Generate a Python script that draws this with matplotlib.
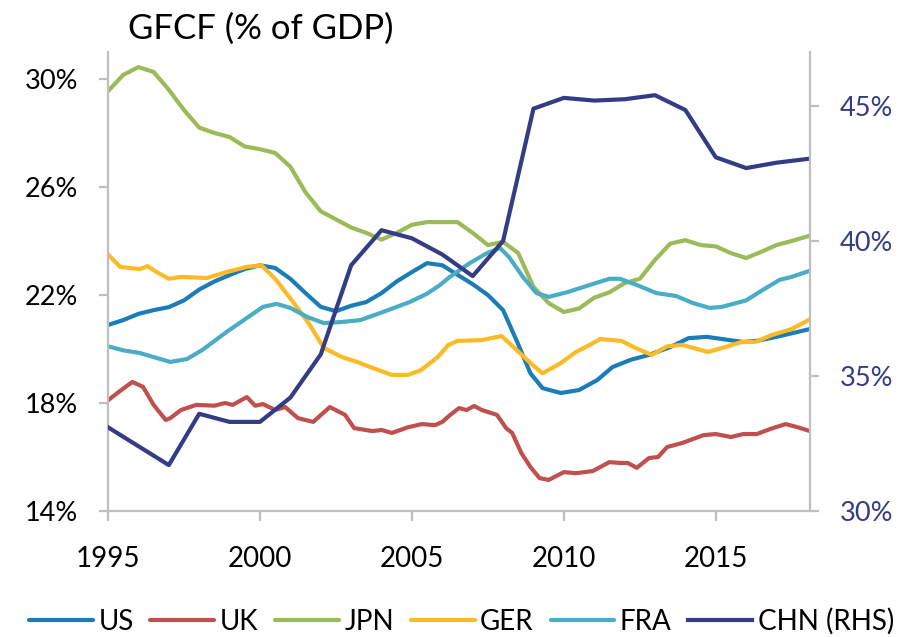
import matplotlib
matplotlib.use('Agg')
import matplotlib.pyplot as plt

plt.rcParams['font.family'] = ['Lato', 'DejaVu Sans']

# values (% of GDP)
us_x = [1995.0, 1995.5, 1996.0, 1996.5, 1997.0, 1997.5, 1998.0, 1998.5, 1999.0, 1999.5,
        2000.0, 2000.5, 2001.0, 2001.5, 2002.0, 2002.5, 2003.0, 2003.5, 2004.0, 2004.5,
        2005.0, 2005.5, 2006.0, 2006.5, 2007.0, 2007.5, 2008.0, 2008.45, 2008.9, 2009.3,
        2009.9, 2010.5, 2011.1, 2011.6, 2012.2, 2012.8, 2013.5, 2014.1, 2014.7, 2015.2,
        2015.9, 2016.35, 2017.0, 2018.1]
us_y = [20.89, 21.07, 21.3, 21.44, 21.55, 21.8, 22.2, 22.5, 22.74, 22.96,
        23.1, 23.0, 22.6, 22.07, 21.56, 21.4, 21.6, 21.74, 22.07, 22.5,
        22.85, 23.18, 23.1, 22.75, 22.4, 22.0, 21.44, 20.3, 19.1, 18.55,
        18.37, 18.48, 18.85, 19.33, 19.6, 19.78, 20.07, 20.4, 20.45, 20.37,
        20.26, 20.3, 20.45, 20.74]

uk_x = [1995.0, 1995.4, 1995.8, 1996.15, 1996.5, 1996.9, 1997.05, 1997.4, 1997.9, 1998.5,
        1998.85, 1999.1, 1999.57, 1999.84, 2000.1, 2000.5, 2000.83, 2001.25, 2001.75, 2002.3,
        2002.8, 2003.1, 2003.7, 2004.0, 2004.34, 2004.87, 2005.33, 2005.76, 2006.0, 2006.25,
        2006.55, 2006.8, 2007.05, 2007.3, 2007.8, 2008.1, 2008.3, 2008.6, 2008.9, 2009.2,
        2009.5, 2010.0, 2010.4, 2010.95, 2011.5, 2011.85, 2012.1, 2012.4, 2012.8, 2013.1,
        2013.4, 2013.9, 2014.6, 2015.0, 2015.5, 2015.9, 2016.35, 2016.8, 2017.3, 2017.7, 2018.1]
uk_y = [18.1, 18.45, 18.78, 18.6, 17.93, 17.37, 17.44, 17.74, 17.93, 17.9,
        18.0, 17.93, 18.22, 17.9, 17.96, 17.74, 17.85, 17.44, 17.3, 17.85,
        17.56, 17.07, 16.96, 17.0, 16.89, 17.1, 17.22, 17.18, 17.3, 17.55,
        17.81, 17.74, 17.89, 17.74, 17.56, 17.07, 16.89, 16.15, 15.63, 15.22,
        15.15, 15.44, 15.4, 15.48, 15.81, 15.78, 15.78, 15.6, 15.96, 16.0,
        16.37, 16.52, 16.81, 16.85, 16.74, 16.85, 16.85, 17.04, 17.22, 17.1, 16.96]

jpn_x = [1995.0, 1995.5, 1996.0, 1996.5, 1997.0, 1997.5, 1998.0, 1998.5, 1999.0, 1999.5,
         2000.0, 2000.5, 2001.0, 2001.5, 2002.0, 2002.5, 2003.0, 2003.5, 2004.0, 2004.5,
         2005.0, 2005.5, 2006.0, 2006.5, 2007.0, 2007.5, 2008.0, 2008.5, 2009.0, 2009.5,
         2010.0, 2010.5, 2011.0, 2011.5, 2012.0, 2012.5, 2013.0, 2013.5, 2014.0, 2014.5,
         2015.0, 2015.5, 2016.0, 2016.5, 2017.0, 2017.5, 2018.1]
jpn_y = [29.55, 30.15, 30.44, 30.26, 29.6, 28.85, 28.2, 28.0, 27.85, 27.5,
         27.4, 27.26, 26.75, 25.8, 25.1, 24.8, 24.5, 24.3, 24.05, 24.3,
         24.6, 24.7, 24.7, 24.7, 24.3, 23.85, 23.97, 23.55, 22.3, 21.7,
         21.37, 21.5, 21.9, 22.1, 22.44, 22.6, 23.3, 23.9, 24.03, 23.85,
         23.8, 23.55, 23.37, 23.6, 23.85, 24.0, 24.2]

ger_x = [1995.0, 1995.4, 1996.05, 1996.3, 1996.6, 1997.0, 1997.4, 1998.25, 1998.9, 1999.57,
         2000.05, 2000.5, 2001.05, 2001.6, 2002.1, 2002.7, 2003.2, 2003.7, 2004.34, 2004.87,
         2005.3, 2005.85, 2006.2, 2006.5, 2007.3, 2007.95, 2008.45, 2008.9, 2009.3, 2009.9,
         2010.4, 2010.85, 2011.2, 2011.9, 2012.35, 2012.9, 2013.4, 2013.9, 2014.75, 2015.3,
         2015.85, 2016.3, 2016.85, 2017.5, 2018.1]
ger_y = [23.5, 23.04, 22.96, 23.07, 22.85, 22.6, 22.67, 22.63, 22.85, 23.04,
         23.1, 22.6, 21.8, 20.96, 20.04, 19.7, 19.52, 19.3, 19.04, 19.04,
         19.22, 19.7, 20.15, 20.3, 20.33, 20.48, 19.96, 19.48, 19.1, 19.48,
         19.89, 20.15, 20.37, 20.3, 20.04, 19.78, 20.1, 20.15, 19.89, 20.07,
         20.26, 20.26, 20.52, 20.74, 21.1]

fra_x = [1995.0, 1995.5, 1996.05, 1997.05, 1997.6, 1998.1, 1998.9, 1999.57, 2000.1, 2000.55,
         2001.0, 2001.55, 2002.1, 2002.7, 2003.3, 2004.05, 2004.93, 2005.5, 2005.9, 2006.25,
         2006.9, 2007.47, 2007.9, 2008.2, 2008.65, 2009.1, 2009.5, 2010.1, 2010.85, 2011.5,
         2011.85, 2012.4, 2013.05, 2013.7, 2014.25, 2014.8, 2015.2, 2016.0, 2016.55, 2017.1,
         2017.5, 2018.1]
fra_y = [20.1, 19.95, 19.85, 19.52, 19.63, 19.96, 20.63, 21.15, 21.56, 21.67,
         21.52, 21.19, 20.96, 21.0, 21.07, 21.37, 21.74, 22.05, 22.35, 22.67,
         23.18, 23.55, 23.74, 23.4, 22.67, 22.07, 21.93, 22.1, 22.37, 22.6,
         22.6, 22.37, 22.07, 21.96, 21.7, 21.52, 21.56, 21.8, 22.19, 22.56,
         22.67, 22.9]

chn_x = [1995, 1996, 1997, 1998, 1999, 2000, 2001, 2002, 2003, 2004, 2005, 2006,
         2007, 2008, 2009, 2010, 2011, 2012, 2013, 2014, 2015, 2016, 2017, 2018.1]
chn_y = [33.1, 32.4, 31.7, 33.6, 33.3, 33.3, 34.2, 35.8, 39.1, 40.4, 40.1, 39.5,
         38.7, 40.0, 44.9, 45.3, 45.2, 45.25, 45.4, 44.85, 43.1, 42.7, 42.9, 43.05]

left_ticks = [14, 18, 22, 26, 30]
right_ticks = [30, 35, 40, 45]
year_ticks = [1995, 2000, 2005, 2010, 2015]

colors = {'US': '#1b7db8', 'UK': '#c0504d', 'JPN': '#9bbb59',
          'GER': '#fbba26', 'FRA': '#4bacc6', 'CHN (RHS)': '#333c84'}
grey = '#bfbfbf'
lw = 3.0

fig = plt.figure(figsize=(9.14, 6.37), dpi=100)
ax = fig.add_axes([0.1182, 0.1978, 0.768, 0.7206])
ax2 = ax.twinx()

series = [('US', us_x, us_y), ('UK', uk_x, uk_y), ('JPN', jpn_x, jpn_y),
          ('GER', ger_x, ger_y), ('FRA', fra_x, fra_y)]
handles = []
for name, xs, ys in series:
    h, = ax.plot(xs, ys, color=colors[name], lw=lw, solid_joinstyle='round',
                 solid_capstyle='round', label=name)
    handles.append(h)
h, = ax2.plot(chn_x, chn_y, color=colors['CHN (RHS)'], lw=lw, solid_joinstyle='round',
              label='CHN (RHS)')
handles.append(h)

ax.set_xlim(1995, 2018.1)
ax.set_ylim(14, 31)
ax2.set_ylim(30, 47)
ax.set_xticks(year_ticks)
ax.set_yticks(left_ticks)
ax.set_yticklabels([f'{t}%' for t in left_ticks])
ax2.set_yticks(right_ticks)
ax2.set_yticklabels([f'{t}%' for t in right_ticks])

for a in (ax, ax2):
    a.spines['top'].set_visible(False)
    for s in ('left', 'right', 'bottom'):
        a.spines[s].set_color(grey)
        a.spines[s].set_linewidth(1.6)
ax.spines['right'].set_visible(False)
ax2.spines['left'].set_visible(False)
ax2.spines['bottom'].set_visible(False)

ax.tick_params(axis='y', direction='out', length=6.5, width=1.6, color=grey,
               labelsize=19.5, pad=15, labelcolor='black')
ax.tick_params(axis='x', direction='out', length=7, width=1.6, color=grey,
               labelsize=20, pad=18, labelcolor='black')
ax2.tick_params(axis='y', direction='out', length=6.5, width=1.6, color=grey,
                labelsize=19.5, pad=15, labelcolor='#333c84')

fig.text(0.14, 0.955, 'GFCF (% of GDP)', fontsize=25, va='center', ha='left')

fig.legend(handles=handles, labels=[h.get_label() for h in handles], loc='center',
           bbox_to_anchor=(0.505, 0.025), ncol=6, frameon=False, fontsize=20,
           handlelength=2.3, handletextpad=0.2, columnspacing=0.6)

fig.savefig('out.png', dpi=100)
